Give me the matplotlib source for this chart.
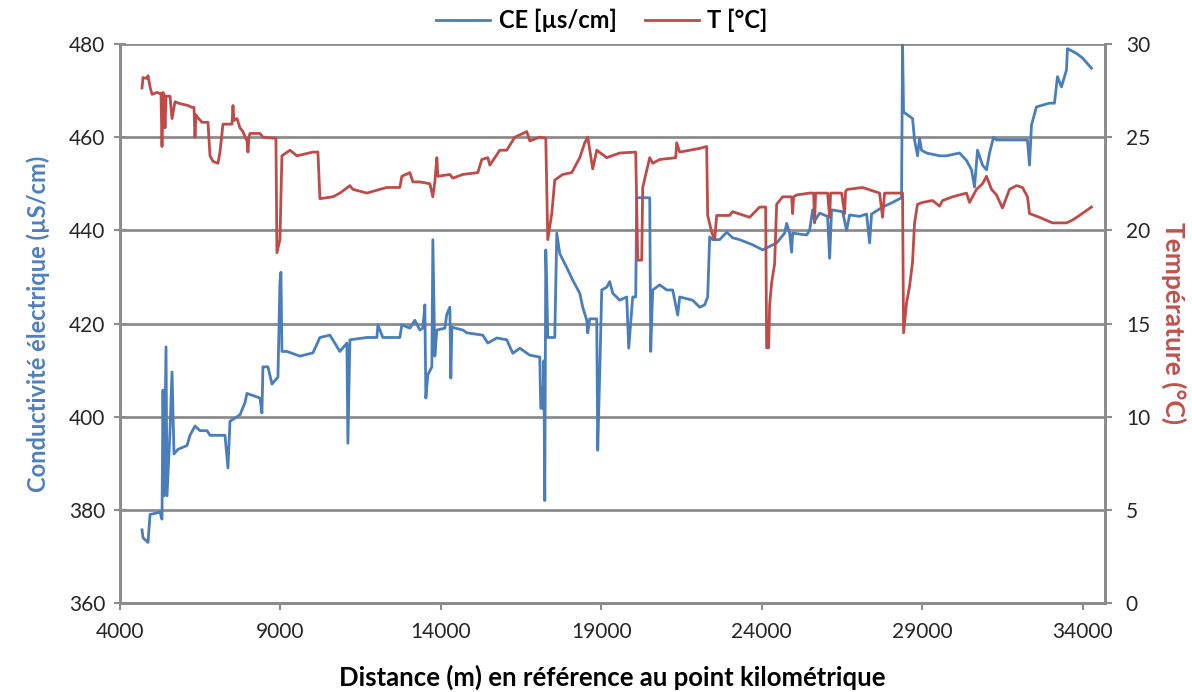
import matplotlib
matplotlib.use('Agg')
import matplotlib.pyplot as plt
import numpy as np

plt.rcParams['font.family'] = ['Lato', 'DejaVu Sans']

# conductivite electrique (CE) le long du trajet
dist_ce = [4685, 4716, 4872, 4935, 5246, 5308, 5339, 5371, 5433, 5464, 5558, 5620, 5682, 5807,
           6087, 6181, 6336, 6492, 6710, 6804, 7271, 7364, 7427, 7582, 7738, 7894, 7956, 8361,
           8423, 8454, 8610, 8735, 8922, 8984, 9015, 9046, 9202, 9607, 10012, 10230, 10542,
           10853, 11071, 11102, 11165, 11694, 12006, 12037, 12192, 12722, 12784, 13034, 13189,
           13345, 13438, 13501, 13532, 13594, 13719, 13750, 13812, 13875, 14124, 14186, 14280,
           14311, 14342, 14684, 14809, 15307, 15463, 15743, 16055, 16242, 16460, 16772, 17083,
           17114, 17176, 17208, 17239, 17270, 17301, 17332, 17550, 17613, 17706, 17924, 18111,
           18329, 18423, 18547, 18578, 18640, 18734, 18858, 18889, 18952, 19014, 19170, 19263,
           19357, 19575, 19793, 19855, 19980, 20073, 20104, 20510, 20541, 20603, 20821, 21039,
           21226, 21382, 21444, 21849, 22067, 22223, 22316, 22347, 22379, 22472, 22690, 22908,
           23095, 23313, 23718, 24030, 24466, 24715, 24777, 24871, 24933, 24964, 25400, 25494,
           25587, 25649, 25805, 26054, 26117, 26179, 26522, 26646, 26740, 27051, 27269, 27363,
           27425, 27767, 28079, 28359, 28390, 28422, 28702, 28764, 28858, 28920, 28982, 29138,
           29543, 29761, 30166, 30384, 30540, 30633, 30727, 30883, 31007, 31101, 31226, 31319,
           32284, 32347, 32409, 32563, 32970, 33125, 33219, 33343, 33499, 33530, 33810, 33999,
           34278]
ce = [375.7, 374, 373, 379, 379.5, 378, 405.7, 383, 415, 383, 397, 409.6, 392, 393,
      393.8, 396, 398, 397, 397, 396, 396, 389, 399, 399.7, 400.4, 403, 405, 404,
      400.8, 410.7, 410.7, 407, 408.5, 429, 431, 414, 414, 413, 413.7, 417, 417.5,
      414, 415.8, 394.3, 416.5, 417, 417, 419.7, 417, 417, 419.7, 419, 420.7,
      418.6, 419, 424, 404, 409, 410.7, 438, 413, 418.6, 419, 422, 423.5,
      408.3, 419.2, 418.6, 418, 417.5, 415.8, 416.9, 416.5, 413.6, 414.7, 413.2, 412.8,
      401.8, 401.8, 412, 382, 435.8, 427.8, 417, 417, 439.4, 435, 432, 429.3,
      426.5, 423.5, 420.7, 418, 421, 421, 421, 392.8, 409.4, 427.2, 427.8, 429,
      426.5, 425, 425.7, 414.7, 425.7, 425.7, 447, 447, 414, 427.2, 428.3, 427.2,
      427.2, 421.8, 425.7, 425, 423.5, 424, 425.7, 432, 438.6, 438, 438, 439.6,
      438.4, 438, 436.9, 435.8, 437.3, 439.4, 441.5, 439.4, 435.3, 439.4, 439, 440,
      444.4, 442, 443.7, 443, 434, 444.4, 444, 440, 443.3, 443, 443.5, 437.3,
      443.5, 445, 446, 447, 480, 465.4, 464, 459.4, 456, 459.8, 457.2, 456.6,
      456, 456, 456.6, 455, 453, 449.3, 457.2, 454, 453, 456.6, 460, 459.4,
      459.4, 454, 462.6, 466.5, 467.3, 467.3, 473, 470.8, 474.4, 479, 478, 477,
      474.8]

# temperature
dist_t = [4685, 4716, 4841, 4872, 4935, 4997, 5153, 5246, 5277, 5308, 5339, 5371, 5402, 5433,
          5558, 5620, 5713, 5869, 6118, 6243, 6305, 6336, 6367, 6399, 6554, 6741, 6804, 6897,
          7053, 7115, 7208, 7427, 7489, 7520, 7551, 7645, 7738, 7831, 7925, 7956, 7987, 8018,
          8050, 8361, 8454, 8766, 8859, 8890, 8984, 9046, 9296, 9515, 10012, 10168, 10230,
          10635, 10853, 11165, 11258, 11694, 12099, 12317, 12722, 12784, 13034, 13127, 13345,
          13657, 13750, 13812, 13875, 13906, 14280, 14373, 14684, 15152, 15276, 15463, 15526,
          15837, 16055, 16304, 16678, 16772, 17083, 17270, 17332, 17457, 17550, 17799, 18080,
          18329, 18485, 18578, 18734, 18859, 19170, 19575, 20073, 20136, 20260, 20291, 20510,
          20603, 20821, 21319, 21351, 21444, 22067, 22285, 22316, 22441, 22534, 22597, 23002,
          23095, 23625, 23936, 24123, 24154, 24216, 24248, 24310, 24403, 24466, 24652, 24933,
          24964, 24995, 25089, 25494, 25618, 25649, 25680, 26054, 26117, 26148, 26490, 26584,
          26615, 26677, 27144, 27674, 27767, 27830, 28297, 28390, 28422, 28515, 28609, 28702,
          28764, 28858, 29014, 29325, 29543, 29637, 29948, 30384, 30478, 30696, 30882, 31007,
          31163, 31319, 31505, 31724, 31942, 32128, 32284, 32347, 32658, 33063, 33499, 33685,
          33904, 34278]
temp = [27.64, 28.2, 28.15, 28.3, 27.7, 27.3, 27.4, 27.35, 27.35, 24.5, 27.4, 27.3, 25.5, 27.2,
        27.2, 26.0, 26.9, 26.8, 26.7, 26.6, 26.6, 25.0, 26.2, 26.1, 25.8, 25.8, 24.0, 23.7,
        23.6, 24.2, 25.7, 25.7, 25.7, 26.7, 25.9, 26.0, 25.5, 25.3, 24.9, 24.85, 24.2, 25.0,
        25.2, 25.2, 25.0, 24.95, 24.95, 18.8, 19.5, 24.0, 24.3, 24.0, 24.2, 24.2, 21.7,
        21.8, 22.0, 22.4, 22.2, 22.0, 22.2, 22.3, 22.3, 22.9, 23.1, 22.6, 22.6,
        22.5, 21.8, 22.6, 23.9, 22.9, 23.0, 22.8, 23.0, 23.1, 23.8, 23.9, 23.5,
        24.3, 24.3, 25.0, 25.3, 24.8, 25.0, 24.95, 19.5, 20.9, 22.7, 23.0, 23.1,
        23.9, 24.7, 25.0, 23.3, 24.3, 23.9, 24.15, 24.2, 18.4, 18.4, 22.3, 23.9,
        23.6, 23.8, 23.9, 24.7, 24.2, 24.4, 24.5, 20.8, 19.9, 19.5, 20.8, 20.8,
        21.0, 20.7, 21.25, 21.25, 13.7, 13.7, 16.0, 17.2, 18.2, 21.4, 21.8, 21.8,
        20.9, 21.8, 21.9, 22.0, 22.0, 20.4, 22.0, 22.0, 20.7, 22.0, 22.0, 20.9,
        22.1, 22.2, 22.3, 22.0, 20.7, 22.0, 22.0, 22.0, 14.5, 16.1, 17.0, 18.3,
        20.4, 21.4, 21.5, 21.6, 21.3, 21.6, 21.8, 22.0, 21.5, 22.2, 22.5, 22.9,
        22.2, 21.9, 21.2, 22.2, 22.4, 22.3, 21.8, 20.9, 20.7, 20.4, 20.4, 20.55,
        20.8, 21.25]

x_ticks = [4000, 9000, 14000, 19000, 24000, 29000, 34000]

blue = '#4A7EBB'
red = '#BE4B48'
grey = '#8C8C8C'

fig = plt.figure(figsize=(11.92, 6.92), dpi=100)
ax = fig.add_axes([0.1007, 0.1286, 0.8263, 0.8078])
ax2 = ax.twinx()

l1, = ax.plot(dist_ce, ce, color=blue, lw=2, label='CE [µs/cm]')
l2, = ax2.plot(dist_t, temp, color=red, lw=2, label='T [°C]')

ax.set_xlim(4000, 34700)
ax.set_ylim(360, 480)
ax2.set_ylim(0, 30)
ax.set_xticks(x_ticks)
ax.set_yticks(np.arange(360, 481, 20))
ax2.set_yticks(np.arange(0, 31, 5))

ax.yaxis.grid(True, color=grey, lw=2)
ax.set_axisbelow(True)
for a in (ax, ax2):
    for s in a.spines.values():
        s.set_color(grey)
        s.set_linewidth(2)
    a.spines['top'].set_visible(False)
    a.tick_params(colors=grey, labelcolor='#262626', labelsize=15, width=1.5)
ax.tick_params(axis='x', length=5, pad=9)
ax.tick_params(axis='y', direction='inout', length=9, pad=6)
ax2.tick_params(axis='y', length=5, pad=10)

ax.set_ylabel('Conductivité électrique (µS/cm)', color='#4F7FBE', fontsize=17,
              fontweight='bold', labelpad=14)
ax2.set_ylabel('Température (°C)', color='#C0504D', fontsize=19, fontweight='bold',
               rotation=270, labelpad=26)
ax.set_xlabel('Distance (m) en référence au point kilométrique', fontsize=18.5,
              fontweight='bold', labelpad=16)

fig.legend(handles=[l1, l2], loc='upper center', bbox_to_anchor=(0.505, 1.018), ncol=2,
           frameon=False, prop={'weight': 'bold', 'size': 17}, handlelength=2.3,
           handletextpad=0.35, columnspacing=1.2)

fig.savefig('out.png', dpi=100)
